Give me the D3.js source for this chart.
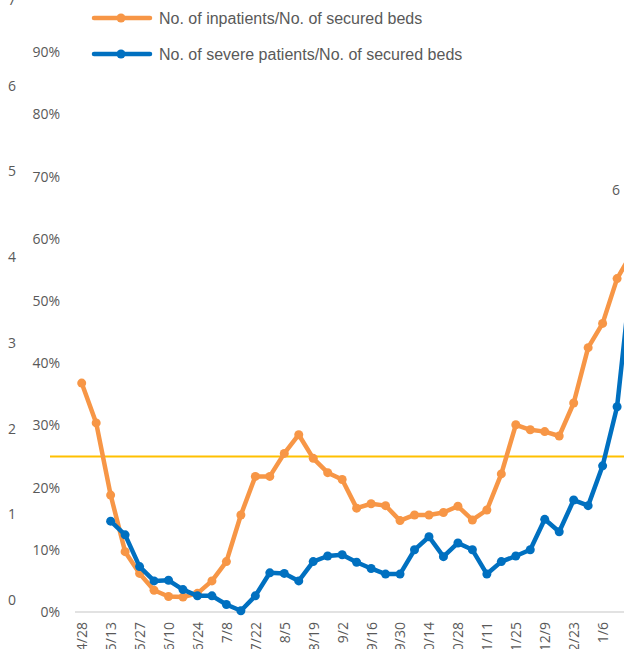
<!DOCTYPE html>
<html>
<head>
<meta charset="utf-8">
<script src="https://cdn.jsdelivr.net/npm/d3@7"></script>
<style>
  html, body { margin: 0; padding: 0; background: #fff; overflow: hidden; }
  svg { display: block; }
  .tick text { font-family: "Open Sans", sans-serif; fill: #595959; }
</style>
</head>
<body>
<svg id="chart" width="624" height="649"></svg>
<script>
const dates = ["4/28","5/6","5/13","5/20","5/27","6/3","6/10","6/17","6/24","7/1","7/8","7/15","7/22","7/29","8/5","8/12","8/19","8/26","9/2","9/9","9/16","9/23","9/30","10/7","10/14","10/21","10/28","11/4","11/11","11/18","11/25","12/2","12/9","12/16","12/23","12/30","1/6","1/13","1/20"];
const inpatients = [36.8,30.4,18.8,9.7,6.2,3.5,2.5,2.4,3.0,5.0,8.1,15.6,21.8,21.8,25.5,28.5,24.7,22.4,21.3,16.7,17.4,17.1,14.7,15.6,15.6,16.0,17.0,14.8,16.4,22.2,30.1,29.3,29.0,28.3,33.6,42.5,46.4,53.6,57.6];
const severe = [null,null,14.6,12.4,7.3,5.0,5.1,3.6,2.6,2.6,1.2,0.2,2.6,6.3,6.2,5.0,8.1,9.0,9.2,8.0,7.0,6.1,6.1,10.0,12.1,8.9,11.1,10.0,6.1,8.1,9.0,10.0,14.9,12.9,18.0,17.1,23.5,33.0,54.5];
const pctTicks = [0,10,20,30,40,50,60,70,80,90];
const outerTicks = [0,1,2,3,4,5,6,7];
const thresholdPct = 25;
const seriesNames = ["No. of inpatients/No. of secured beds", "No. of severe patients/No. of secured beds"];
const colors = ["#F79646", "#0070C0"];

const svg = d3.select("#chart");
const step = 14.47;
const x = d3.scalePoint().domain(d3.range(dates.length)).range([81.7, 81.7 + step * (dates.length - 1)]);
const y = d3.scaleLinear().domain([0, 90]).range([612, 52.2]);
const yOuter = d3.scaleLinear().domain([0, 7]).range([600, 0]);

// outer left axis (cropped chart)
const gOuter = svg.append("g").attr("transform", "translate(16,0)")
  .call(d3.axisLeft(yOuter).tickValues(outerTicks).tickSize(0).tickPadding(0).tickFormat(d3.format("d")));
gOuter.select(".domain").remove();
gOuter.selectAll("text").attr("font-size", 14).attr("text-anchor", "end");

// percentage axis
const gY = svg.append("g").attr("transform", "translate(60,0)")
  .call(d3.axisLeft(y).tickValues(pctTicks).tickSize(0).tickPadding(0).tickFormat(d => d + "%"));
gY.select(".domain").remove();
gY.selectAll("text").attr("font-size", 14);

// x axis
const gX = svg.append("g").attr("transform", "translate(0,612)")
  .call(d3.axisBottom(x).tickValues(d3.range(0, dates.length, 2)).tickSize(0).tickFormat(i => dates[i]));
gX.select(".domain").remove();
svg.append("line").attr("x1", 75).attr("x2", 660).attr("y1", y(0)).attr("y2", y(0))
  .attr("stroke", "#d9d9d9").attr("stroke-width", 1.5);
gX.selectAll("text")
  .attr("font-size", 14)
  .attr("transform", "rotate(-90)")
  .attr("text-anchor", "end")
  .attr("x", -10).attr("y", 0).attr("dy", "0.35em");

// threshold line
svg.append("line").attr("x1", 50).attr("x2", 660)
  .attr("y1", y(thresholdPct)).attr("y2", y(thresholdPct))
  .attr("stroke", "#FFC000").attr("stroke-width", 2);

// series
[inpatients, severe].forEach((vals, k) => {
  const pts = vals.map((v, i) => [i, v]).filter(d => d[1] !== null);
  const line = d3.line().x(d => x(d[0])).y(d => y(d[1]));
  svg.append("path").datum(pts).attr("d", line)
    .attr("fill", "none").attr("stroke", colors[k]).attr("stroke-width", 4.5)
    .attr("stroke-linejoin", "round");
  svg.append("g").selectAll("circle").data(pts).join("circle")
    .attr("cx", d => x(d[0])).attr("cy", d => y(d[1])).attr("r", 4.5)
    .attr("fill", colors[k]);
});

// legend
const legendY = [18, 54];
seriesNames.forEach((name, k) => {
  const g = svg.append("g").attr("transform", `translate(0,${legendY[k]})`);
  g.append("line").attr("x1", 94).attr("x2", 150).attr("stroke", colors[k]).attr("stroke-width", 4.5).attr("stroke-linecap", "round");
  g.append("circle").attr("cx", 121).attr("r", 4.5).attr("fill", colors[k]);
  g.append("text").attr("x", 159).attr("dy", "0.35em")
    .attr("font-family", "Liberation Sans, Arial, sans-serif").attr("font-size", 16)
    .attr("fill", "#595959").text(name);
});

// cropped label of neighbouring axis
svg.append("text").attr("x", 612).attr("y", 190).attr("dy", "0.35em")
  .attr("font-family", "Open Sans, sans-serif").attr("font-size", 14).attr("fill", "#595959").text("6");
</script>
</body>
</html>
